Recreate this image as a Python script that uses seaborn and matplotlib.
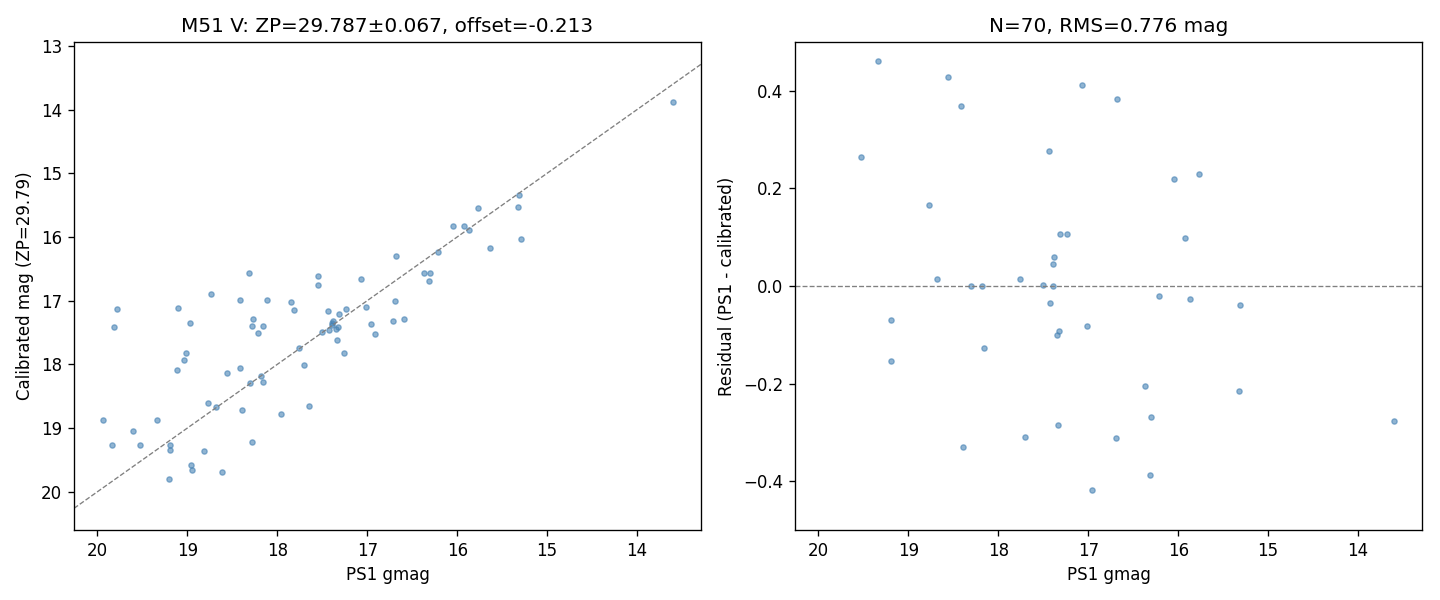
import numpy as np
import pandas as pd
import matplotlib
matplotlib.use("Agg")
import matplotlib.pyplot as plt
import seaborn as sns

# PS1 g magnitudes and calibrated magnitudes
ps1_gmag = [
    19.785, 19.81, 19.10, 18.97, 18.74, 18.42, 18.12, 17.85, 17.82, 18.27,
    18.28, 18.16, 18.22, 17.434, 17.312, 17.234, 17.378, 17.390, 17.323, 17.345,
    17.423, 17.500, 17.334, 17.26, 17.757, 17.700, 17.65, 17.96, 17.012, 16.956,
    16.915, 19.02, 19.04, 19.11, 18.557, 18.420, 18.180, 18.157, 18.300, 18.768,
    18.680, 18.390, 19.94, 19.335, 19.60, 19.84, 19.524, 19.190, 19.190, 18.82,
    18.28, 18.96, 18.95, 18.62, 19.20, 18.31, 17.55, 17.55, 17.067, 13.599,
    15.310, 15.320, 15.770, 15.29, 15.64, 16.045, 15.922, 15.867, 16.210, 16.680,
    16.367, 16.300, 16.310, 16.690, 16.715, 16.59, 17.390,
]
calib_mag = [
    17.13, 17.41, 17.11, 17.35, 16.89, 16.99, 16.99, 17.02, 17.14, 17.29,
    17.40, 17.40, 17.51, 17.158, 17.206, 17.128, 17.319, 17.345, 17.415, 17.446,
    17.458, 17.498, 17.619, 17.82, 17.743, 18.010, 18.65, 18.78, 17.094, 17.374,
    17.52, 17.82, 17.93, 18.09, 18.129, 18.051, 18.180, 18.284, 18.300, 18.602,
    18.666, 18.720, 18.87, 18.874, 19.05, 19.27, 19.260, 19.260, 19.344, 19.36,
    19.22, 19.58, 19.66, 19.69, 19.80, 16.56, 16.61, 16.75, 16.655, 13.876,
    15.349, 15.535, 15.541, 16.04, 16.17, 15.826, 15.824, 15.894, 16.231, 16.297,
    16.572, 16.569, 16.698, 17.002, 17.32, 17.29, 17.390,
]

zp_label = "M51 V: ZP=29.787±0.067, offset=-0.213"
stats_label = "N=70, RMS=0.776 mag"

df = pd.DataFrame({"ps1": ps1_gmag, "cal": calib_mag})
df["resid"] = df["ps1"] - df["cal"]

xlims = (20.26, 13.29)
pt_color = "steelblue"

fig, (ax1, ax2) = plt.subplots(1, 2, figsize=(12, 5), dpi=120)
fig.subplots_adjust(left=0.0514, right=0.9875, top=0.93, bottom=0.1167, wspace=0.15)

# left: calibrated vs catalogue
sns.scatterplot(data=df, x="ps1", y="cal", ax=ax1, s=10, color=pt_color,
                edgecolor=pt_color, linewidth=0.8, alpha=0.6)
ax1.plot(xlims, xlims, ls="--", color="gray", lw=0.8)
ax1.set_xlim(xlims)
ax1.set_ylim(20.6, 12.94)
ax1.set_xlabel("PS1 gmag")
ax1.set_ylabel("Calibrated mag (ZP=29.79)")
ax1.set_title(zp_label)

# right: residuals
sns.scatterplot(data=df, x="ps1", y="resid", ax=ax2, s=10, color=pt_color,
                edgecolor=pt_color, linewidth=0.8, alpha=0.6)
ax2.axhline(0, ls="--", color="gray", lw=0.8)
ax2.set_xlim(xlims)
ax2.set_ylim(-0.5, 0.5)
ax2.set_xlabel("PS1 gmag")
ax2.set_ylabel("Residual (PS1 - calibrated)")
ax2.set_title(stats_label)

plt.savefig("out.png", dpi=120)
